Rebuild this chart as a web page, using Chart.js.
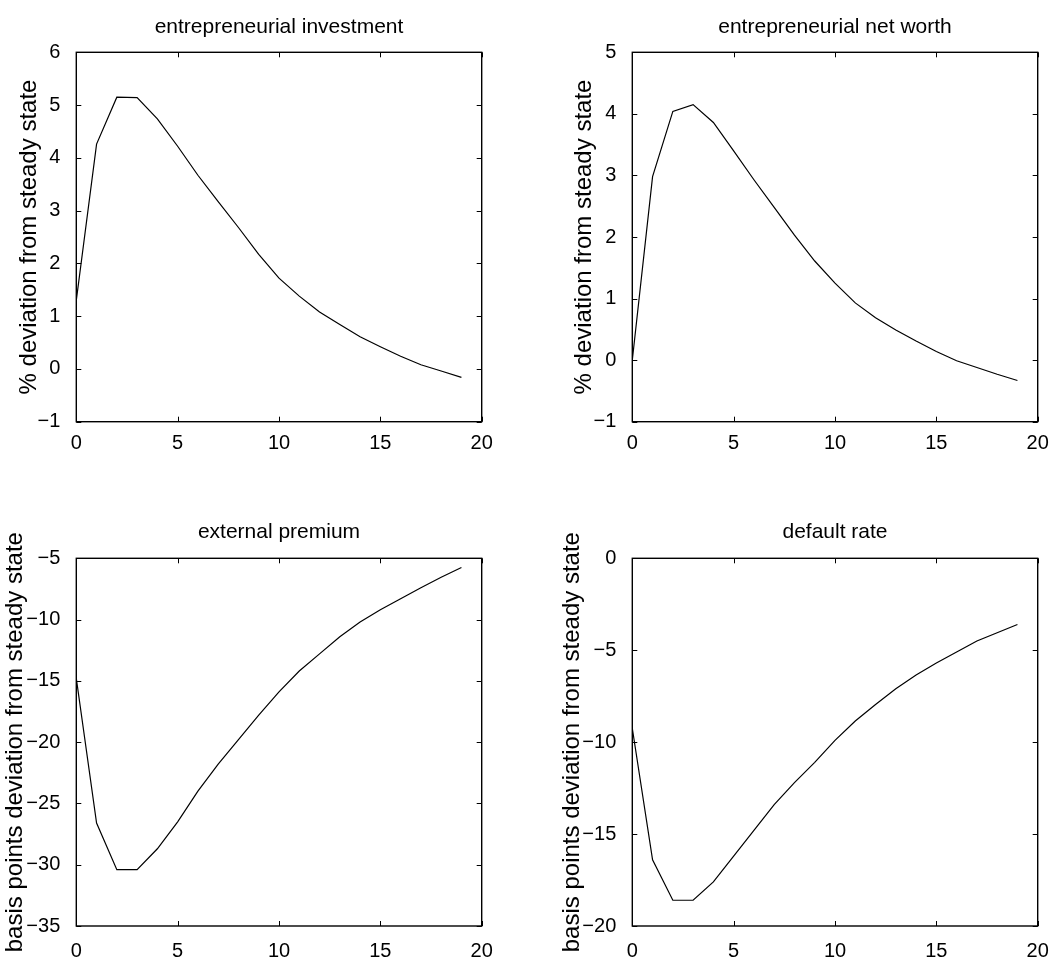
<!DOCTYPE html>
<html>
<head>
<meta charset="utf-8">
<script src="https://cdn.jsdelivr.net/npm/chart.js@4.4.0/dist/chart.umd.min.js"></script>
<style>
    html, body { margin: 0; padding: 0; background: #fff; }
    #lienzo { position: relative; width: 1056px; height: 967px; }
    .panel { position: absolute; }
</style>
</head>
<body>
<div id="lienzo">
    <div class="panel" style="left:0;top:0"><canvas id="g1" width="528" height="484"></canvas></div>
    <div class="panel" style="left:528px;top:0"><canvas id="g2" width="528" height="484"></canvas></div>
    <div class="panel" style="left:0;top:484px"><canvas id="g3" width="528" height="483"></canvas></div>
    <div class="panel" style="left:528px;top:484px"><canvas id="g4" width="528" height="483"></canvas></div>
</div>
<script>
// datos
var periodos = [0, 1, 2, 3, 4, 5, 6, 7, 8, 9, 10, 11, 12, 13, 14, 15, 16, 17, 18, 19];
var inversion = [1.3, 4.26, 5.15, 5.14, 4.74, 4.22, 3.67, 3.17, 2.68, 2.17, 1.72, 1.38, 1.08, 0.84, 0.61, 0.42, 0.24, 0.08, -0.04, -0.16];
var patrimonio = [0.0, 2.98, 4.04, 4.15, 3.86, 3.40, 2.93, 2.48, 2.03, 1.61, 1.25, 0.93, 0.69, 0.49, 0.31, 0.14, -0.01, -0.12, -0.23, -0.33];
var prima = [-14.8, -26.6, -30.4, -30.4, -28.7, -26.5, -24.0, -21.8, -19.8, -17.8, -15.9, -14.2, -12.8, -11.4, -10.2, -9.2, -8.3, -7.4, -6.55, -5.75];
var incumplimiento = [-9.25, -16.4, -18.6, -18.6, -17.6, -16.2, -14.8, -13.4, -12.2, -11.1, -9.9, -8.85, -7.95, -7.1, -6.35, -5.7, -5.1, -4.5, -4.05, -3.6];

// etiquetas de los ejes
var ticksX = [0, 5, 10, 15, 20];
var ticksInv = [-1, 0, 1, 2, 3, 4, 5, 6];
var ticksPat = [-1, 0, 1, 2, 3, 4, 5];
var ticksPrima = [-35, -30, -25, -20, -15, -10, -5];
var ticksDef = [-20, -15, -10, -5, 0];

var titulos = ["entrepreneurial investment", "entrepreneurial net worth", "external premium", "default rate"];
var etiquetaPct = "% deviation from steady state";
var etiquetaBp = "basis points deviation from steady state";

Chart.defaults.color = '#000';
Chart.defaults.font.family = "'Liberation Sans', Arial, Helvetica, sans-serif";

// marco con marcas hacia adentro, estilo matlab
var marco = {
    id: 'marco',
    afterDraw: function (chart) {
        var a = chart.chartArea;
        var c = chart.ctx;
        var sx = chart.scales.x;
        var sy = chart.scales.y;
        c.save();
        c.strokeStyle = '#000';
        c.lineWidth = 1;
        c.beginPath();
        sx.ticks.forEach(function (t) {
            var px = Math.round(sx.getPixelForValue(t.value)) + 0.5;
            c.moveTo(px, a.bottom); c.lineTo(px, a.bottom - 5);
            c.moveTo(px, a.top); c.lineTo(px, a.top + 5);
        });
        sy.ticks.forEach(function (t) {
            var py = Math.round(sy.getPixelForValue(t.value)) + 0.5;
            c.moveTo(a.left, py); c.lineTo(a.left + 5, py);
            c.moveTo(a.right, py); c.lineTo(a.right - 5, py);
        });
        c.stroke();
        c.lineWidth = 1.4;
        c.strokeRect(a.left, a.top, a.right - a.left, a.bottom - a.top);
        c.restore();
    }
};

function graficar(id, serie, ticksY, titulo, etiqueta, caja) {
    var puntos = periodos.map(function (p, i) { return { x: p, y: serie[i] }; });
    return new Chart(document.getElementById(id), {
        type: 'line',
        data: {
            datasets: [{
                data: puntos,
                borderColor: '#000',
                borderWidth: 1.2,
                pointRadius: 0,
                tension: 0,
                fill: false
            }]
        },
        options: {
            responsive: false,
            animation: false,
            layout: { padding: { left: 0, right: caja.derecha, top: 0, bottom: 0 } },
            plugins: {
                legend: { display: false },
                tooltip: { enabled: false },
                title: {
                    display: true,
                    text: titulo,
                    fullSize: false,
                    font: { size: 21, weight: 'normal' },
                    padding: { top: caja.tituloArriba, bottom: caja.tituloAbajo }
                }
            },
            scales: {
                x: {
                    type: 'linear',
                    min: 0,
                    max: 20,
                    afterBuildTicks: function (s) { s.ticks = ticksX.map(function (v) { return { value: v }; }); },
                    afterFit: function (s) { s.height = caja.altoX; },
                    grid: { display: false },
                    border: { display: false },
                    ticks: { font: { size: 20 }, padding: caja.padX, maxRotation: 0, autoSkip: false }
                },
                y: {
                    type: 'linear',
                    min: ticksY[0],
                    max: ticksY[ticksY.length - 1],
                    afterBuildTicks: function (s) { s.ticks = ticksY.map(function (v) { return { value: v }; }); },
                    afterFit: function (s) { s.width = caja.anchoY; },
                    grid: { display: false },
                    border: { display: false },
                    ticks: {
                        font: { size: 20 },
                        padding: 8,
                        autoSkip: false,
                        callback: function (v) { return String(v).replace('-', '\u2212'); }
                    },
                    title: {
                        display: true,
                        text: etiqueta,
                        font: { size: 24, weight: 'normal' },
                        padding: { top: caja.etiqueta, bottom: 0 }
                    }
                }
            }
        },
        plugins: [marco]
    });
}

var arriba = { tituloArriba: 15, tituloAbajo: 12.1, altoX: 62.3, padX: 2 };
var abajo = { tituloArriba: 35.4, tituloAbajo: 13.7, altoX: 41, padX: 5 };

graficar('g1', inversion, ticksInv, titulos[0], etiquetaPct,
    Object.assign({ anchoY: 76.3, derecha: 46.3, etiqueta: 15 }, arriba));
graficar('g2', patrimonio, ticksPat, titulos[1], etiquetaPct,
    Object.assign({ anchoY: 104.3, derecha: 18.3, etiqueta: 42 }, arriba));
graficar('g3', prima, ticksPrima, titulos[2], etiquetaBp,
    Object.assign({ anchoY: 76.3, derecha: 46.3, etiqueta: 1 }, abajo));
graficar('g4', incumplimiento, ticksDef, titulos[3], etiquetaBp,
    Object.assign({ anchoY: 104.3, derecha: 18.3, etiqueta: 30 }, abajo));
</script>
</body>
</html>
